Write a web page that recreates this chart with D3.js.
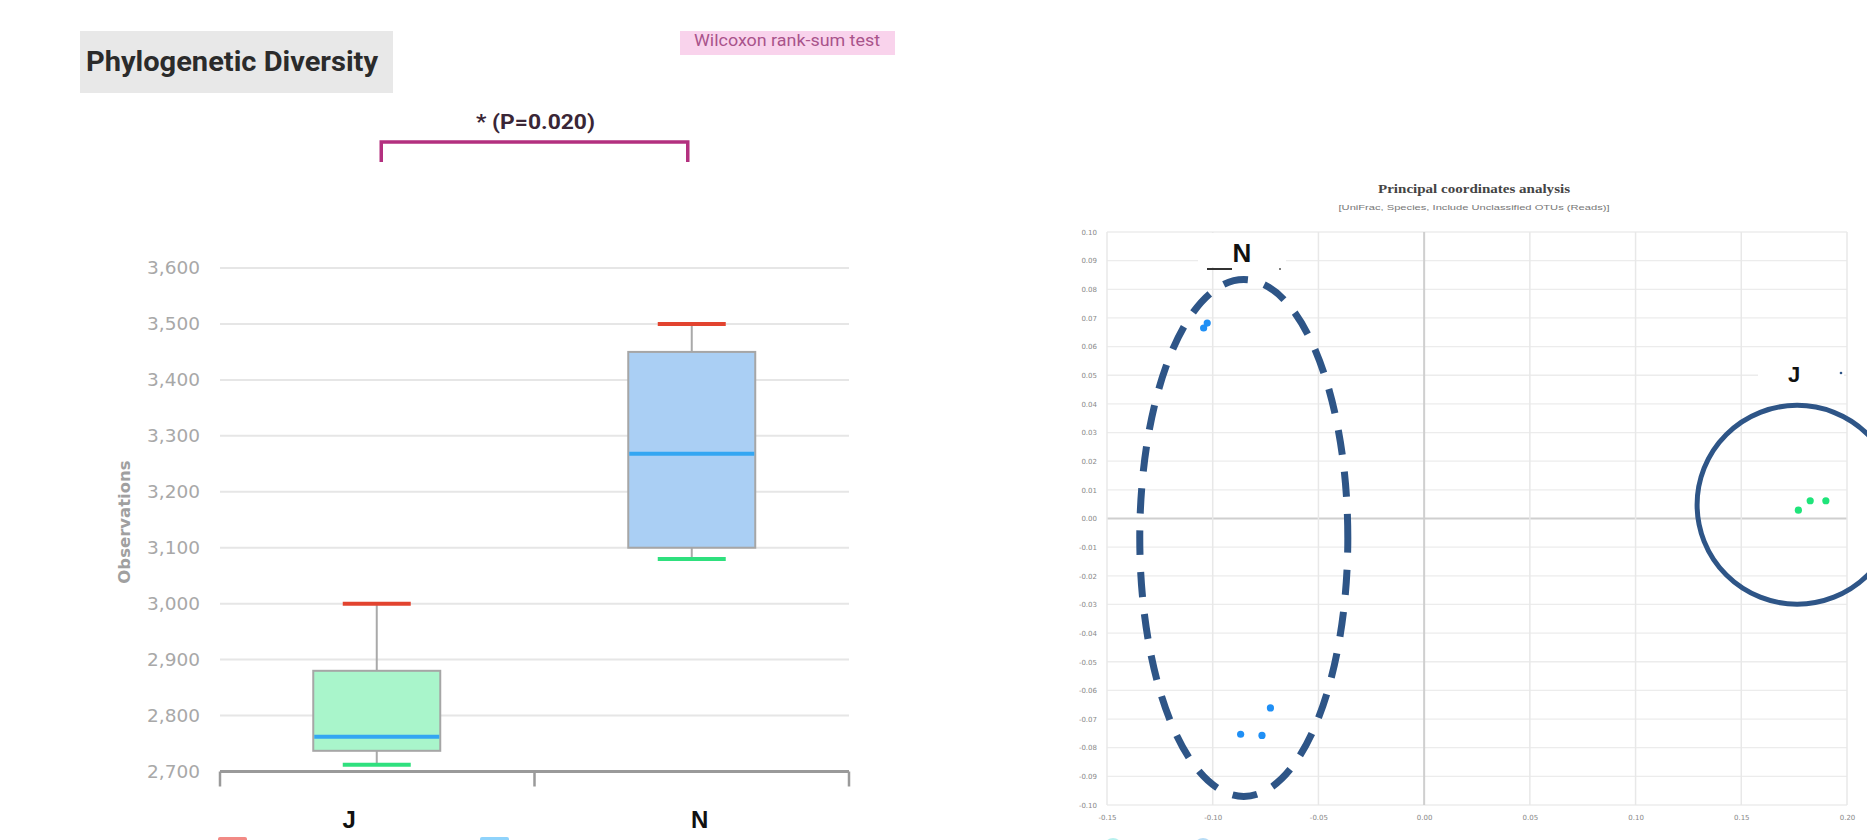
<!DOCTYPE html>
<html>
<head>
<meta charset="utf-8">
<script src="https://cdn.jsdelivr.net/npm/d3@7"></script>
<style>
  html, body { margin: 0; padding: 0; background: #fff; overflow: hidden; }
  svg { display: block; }
</style>
</head>
<body>
<svg id="chart" width="1867" height="840"></svg>
<script>
// ---------- Box plot data (Phylogenetic Diversity) ----------
const categories = ["J", "N"];
const boxMin    = [2712, 3080];
const boxQ1     = [2737, 3100];
const boxMedian = [2762, 3268];
const boxQ3     = [2880, 3450];
const boxMax    = [3000, 3500];
const boxFills  = ["#a9f5cb", "#aacff4"];
const yTicks    = [2700, 2800, 2900, 3000, 3100, 3200, 3300, 3400, 3500, 3600];
const pLabel    = "* (P=0.020)";

// ---------- PCoA data ----------
const nGroupX = [-0.1043, -0.1026, -0.0727, -0.0868, -0.0767];
const nGroupY = [0.0665, 0.0682, -0.0661, -0.0753, -0.0757];
const jGroupX = [0.1770, 0.1826, 0.1900];
const jGroupY = [0.0029, 0.0062, 0.0062];
const pcoaXTicks = [-0.15, -0.10, -0.05, 0.00, 0.05, 0.10, 0.15, 0.20];
const pcoaYTicks = [0.10, 0.09, 0.08, 0.07, 0.06, 0.05, 0.04, 0.03, 0.02, 0.01, 0.00,
                    -0.01, -0.02, -0.03, -0.04, -0.05, -0.06, -0.07, -0.08, -0.09, -0.10];
// annotation shapes (data coordinates): [cx, cy, rx, ry]
const nEllipse = [-0.0853, -0.0068, 0.0492, 0.0902];
const jCircle  = [0.1764, 0.0048, 0.0473, 0.0347];

const svg = d3.select("#chart");

// ================= LEFT: box plot =================
const y = d3.scaleLinear().domain([2700, 3600]).range([771.5, 268]);
const x = d3.scaleBand().domain(categories).range([220, 849]);
const boxW = 127, capW = 68;

// title box
svg.append("rect").attr("x", 80).attr("y", 31).attr("width", 313).attr("height", 62).attr("fill", "#e8e8e8");
svg.append("text").attr("x", 86).attr("y", 71)
  .attr("font-family", "Roboto, 'Liberation Sans', sans-serif").attr("font-weight", "bold")
  .attr("font-size", 27).attr("fill", "#2b2b2b")
  .attr("textLength", 292).attr("lengthAdjust", "spacingAndGlyphs")
  .text("Phylogenetic Diversity");

// wilcoxon label
svg.append("rect").attr("x", 680).attr("y", 31).attr("width", 215).attr("height", 24).attr("fill", "#f9d3ec");
svg.append("text").attr("x", 787).attr("y", 46).attr("text-anchor", "middle")
  .attr("font-family", "Roboto, sans-serif").attr("font-size", 16).attr("fill", "#a9538b")
  .attr("textLength", 186).attr("lengthAdjust", "spacingAndGlyphs")
  .text("Wilcoxon rank-sum test");

// significance bracket
const bx0 = x("J") + x.bandwidth() / 2 + 4, bx1 = x("N") + x.bandwidth() / 2 - 4;
svg.append("path")
  .attr("d", `M${bx0},162 V142 H${bx1} V162`)
  .attr("fill", "none").attr("stroke", "#b3307f").attr("stroke-width", 3.5);
svg.append("text").attr("x", (bx0 + bx1) / 2 + 1).attr("y", 129).attr("text-anchor", "middle")
  .attr("font-family", "Roboto, sans-serif").attr("font-weight", "bold")
  .attr("font-size", 21).attr("fill", "#3a2636")
  .attr("textLength", 119).attr("lengthAdjust", "spacingAndGlyphs")
  .text(pLabel);

// gridlines
svg.append("g").selectAll("line").data(yTicks.filter(d => d > 2700)).join("line")
  .attr("x1", 220).attr("x2", 849)
  .attr("y1", d => y(d)).attr("y2", d => y(d))
  .attr("stroke", "#e6e6e6").attr("stroke-width", 2);

// y axis labels via d3 axis
const yAxis = d3.axisLeft(y).tickValues(yTicks).tickFormat(d3.format(",")).tickSize(0).tickPadding(0);
const gy = svg.append("g").attr("transform", "translate(200,0)").call(yAxis);
gy.select(".domain").remove();
gy.selectAll("text").attr("font-family", "Verdana, 'DejaVu Sans', sans-serif")
  .attr("font-size", 18.5).attr("fill", "#a8a8a8");

// y label
svg.append("text").attr("transform", "translate(124,522) rotate(-90)")
  .attr("text-anchor", "middle").attr("dy", "0.35em")
  .attr("font-family", "'DejaVu Sans', Verdana, sans-serif").attr("font-weight", "bold")
  .attr("font-size", 16.5).attr("fill", "#a0a0a0").text("Observations");

// x axis
svg.append("line").attr("x1", 220).attr("x2", 849).attr("y1", y(2700)).attr("y2", y(2700))
  .attr("stroke", "#9a9a9a").attr("stroke-width", 3);
const xTickPos = [x.range()[0], x.range()[0] + x.step(), x.range()[1]];
svg.append("g").selectAll("line").data(xTickPos).join("line")
  .attr("x1", d => d).attr("x2", d => d).attr("y1", y(2700)).attr("y2", y(2700) + 15)
  .attr("stroke", "#9a9a9a").attr("stroke-width", 2.5);
svg.append("g").selectAll("text").data(categories).join("text")
  .attr("x", d => x(d) + x.bandwidth() / 2 - 28 + (d === "N" ? 36 : 0))
  .attr("y", 828).attr("text-anchor", "middle")
  .attr("font-family", "'Liberation Sans', Arial, sans-serif").attr("font-weight", "bold")
  .attr("font-size", 24).attr("fill", "#111").text(d => d);

// boxes
const boxes = svg.append("g").selectAll("g").data(categories).join("g");
boxes.each(function(d, i) {
  const g = d3.select(this);
  const c = x(d) + x.bandwidth() / 2 - (i === 0 ? 0.5 : 0);
  // whiskers
  g.append("line").attr("x1", c).attr("x2", c).attr("y1", y(boxMax[i])).attr("y2", y(boxQ3[i]))
    .attr("stroke", "#a9a9a9").attr("stroke-width", 2);
  g.append("line").attr("x1", c).attr("x2", c).attr("y1", y(boxQ1[i])).attr("y2", y(boxMin[i]))
    .attr("stroke", "#a9a9a9").attr("stroke-width", 2);
  // box
  g.append("rect").attr("x", c - boxW / 2).attr("width", boxW)
    .attr("y", y(boxQ3[i])).attr("height", y(boxQ1[i]) - y(boxQ3[i]))
    .attr("fill", boxFills[i]).attr("stroke", "#a6a6a6").attr("stroke-width", 2);
  // median
  g.append("line").attr("x1", c - boxW / 2 + 1).attr("x2", c + boxW / 2 - 1)
    .attr("y1", y(boxMedian[i])).attr("y2", y(boxMedian[i]))
    .attr("stroke", "#33a6f2").attr("stroke-width", 4);
  // caps
  g.append("line").attr("x1", c - capW / 2).attr("x2", c + capW / 2)
    .attr("y1", y(boxMax[i])).attr("y2", y(boxMax[i]))
    .attr("stroke", "#e2432f").attr("stroke-width", 4);
  g.append("line").attr("x1", c - capW / 2).attr("x2", c + capW / 2)
    .attr("y1", y(boxMin[i])).attr("y2", y(boxMin[i]))
    .attr("stroke", "#2fe07e").attr("stroke-width", 4);
});

// legend fragments at bottom edge (cut off)
svg.append("rect").attr("x", 218).attr("y", 837).attr("width", 29).attr("height", 6).attr("fill", "#f28a85").attr("rx", 2);
svg.append("rect").attr("x", 480).attr("y", 837).attr("width", 29).attr("height", 6).attr("fill", "#8fd3fb").attr("rx", 2);

// ================= RIGHT: PCoA =================
const px = d3.scaleLinear().domain([-0.15, 0.20]).range([1107, 1847]);
const py = d3.scaleLinear().domain([-0.10, 0.10]).range([805, 232]);

svg.append("text").attr("x", 1474).attr("y", 193).attr("text-anchor", "middle")
  .attr("font-family", "'Liberation Serif', 'DejaVu Serif', serif").attr("font-weight", "bold")
  .attr("font-size", 12).attr("fill", "#444")
  .attr("textLength", 192).attr("lengthAdjust", "spacingAndGlyphs")
  .text("Principal coordinates analysis");
svg.append("text").attr("x", 1474).attr("y", 210).attr("text-anchor", "middle")
  .attr("font-family", "'Liberation Sans', sans-serif")
  .attr("font-size", 8).attr("fill", "#777")
  .attr("textLength", 271).attr("lengthAdjust", "spacingAndGlyphs")
  .text("[UniFrac, Species, Include Unclassified OTUs (Reads)]");

// grid
const pg = svg.append("g");
pg.selectAll("line.h").data(pcoaYTicks).join("line").attr("class", "h")
  .attr("x1", px(-0.15)).attr("x2", px(0.20))
  .attr("y1", d => py(d)).attr("y2", d => py(d))
  .attr("stroke", d => Math.abs(d) < 1e-9 ? "#cfcfcf" : "#ececec")
  .attr("stroke-width", d => Math.abs(d) < 1e-9 ? 2 : 1.3);
pg.selectAll("line.v").data(pcoaXTicks).join("line").attr("class", "v")
  .attr("x1", d => px(d)).attr("x2", d => px(d))
  .attr("y1", py(0.10)).attr("y2", py(-0.10))
  .attr("stroke", d => Math.abs(d) < 1e-9 ? "#cfcfcf" : "#e8e8e8")
  .attr("stroke-width", d => Math.abs(d) < 1e-9 ? 2 : 1.5);

const fmt = v => d3.format(".2f")(v).replace("−", "-");
const axL = d3.axisLeft(py).tickValues(pcoaYTicks).tickFormat(fmt).tickSize(0).tickPadding(0);
const gL = svg.append("g").attr("transform", `translate(${px(-0.15) - 10},0)`).call(axL);
gL.select(".domain").remove();
gL.selectAll("text").attr("font-family", "'DejaVu Sans', sans-serif").attr("font-size", 7).attr("fill", "#888");
const axB = d3.axisBottom(px).tickValues(pcoaXTicks).tickFormat(fmt).tickSize(0).tickPadding(0);
const gB = svg.append("g").attr("transform", `translate(0,${py(-0.10) + 10})`).call(axB);
gB.select(".domain").remove();
gB.selectAll("text").attr("font-family", "'DejaVu Sans', sans-serif").attr("font-size", 7).attr("fill", "#888");

// annotations
svg.append("ellipse")
  .attr("cx", px(nEllipse[0])).attr("cy", py(nEllipse[1]))
  .attr("rx", px(nEllipse[0] + nEllipse[2]) - px(nEllipse[0]))
  .attr("ry", py(nEllipse[1]) - py(nEllipse[1] + nEllipse[3]))
  .attr("fill", "none").attr("stroke", "#2e5587").attr("stroke-width", 7)
  .attr("stroke-dasharray", "25 17").attr("stroke-dashoffset", 10);
svg.append("ellipse")
  .attr("cx", px(jCircle[0])).attr("cy", py(jCircle[1]))
  .attr("rx", px(jCircle[0] + jCircle[2]) - px(jCircle[0]))
  .attr("ry", py(jCircle[1]) - py(jCircle[1] + jCircle[3]))
  .attr("fill", "none").attr("stroke", "#2e5587").attr("stroke-width", 5);

// points
svg.append("g").selectAll("circle").data(nGroupX).join("circle")
  .attr("cx", d => px(d)).attr("cy", (d, i) => py(nGroupY[i])).attr("r", 3.6)
  .attr("fill", "#1f8ff5");
svg.append("g").selectAll("circle").data(jGroupX).join("circle")
  .attr("cx", d => px(d)).attr("cy", (d, i) => py(jGroupY[i])).attr("r", 3.6)
  .attr("fill", "#1fe47a");

// group labels with white backing
svg.append("rect").attr("x", 1198).attr("y", 233).attr("width", 88).attr("height", 34).attr("fill", "#fff");
svg.append("line").attr("x1", 1207).attr("x2", 1232).attr("y1", 269).attr("y2", 269).attr("stroke", "#333").attr("stroke-width", 2);
svg.append("circle").attr("cx", 1280).attr("cy", 269).attr("r", 1).attr("fill", "#555");
svg.append("text").attr("x", 1242).attr("y", 262).attr("text-anchor", "middle")
  .attr("font-family", "'Liberation Sans', Arial, sans-serif").attr("font-weight", "bold")
  .attr("font-size", 26).attr("fill", "#111").text("N");

svg.append("rect").attr("x", 1758).attr("y", 359).attr("width", 86).attr("height", 28).attr("fill", "#fff");
svg.append("text").attr("x", 1794).attr("y", 382).attr("text-anchor", "middle")
  .attr("font-family", "'Liberation Sans', Arial, sans-serif").attr("font-weight", "bold")
  .attr("font-size", 22).attr("fill", "#111").text("J");
svg.append("circle").attr("cx", 1841).attr("cy", 373).attr("r", 1.3).attr("fill", "#2e5587");

// legend fragments at bottom edge (cut off)
svg.append("circle").attr("cx", 1113).attr("cy", 847).attr("r", 9).attr("fill", "#b8f0ee");
svg.append("circle").attr("cx", 1203).attr("cy", 847).attr("r", 9).attr("fill", "#b8dcf5");
</script>
</body>
</html>
